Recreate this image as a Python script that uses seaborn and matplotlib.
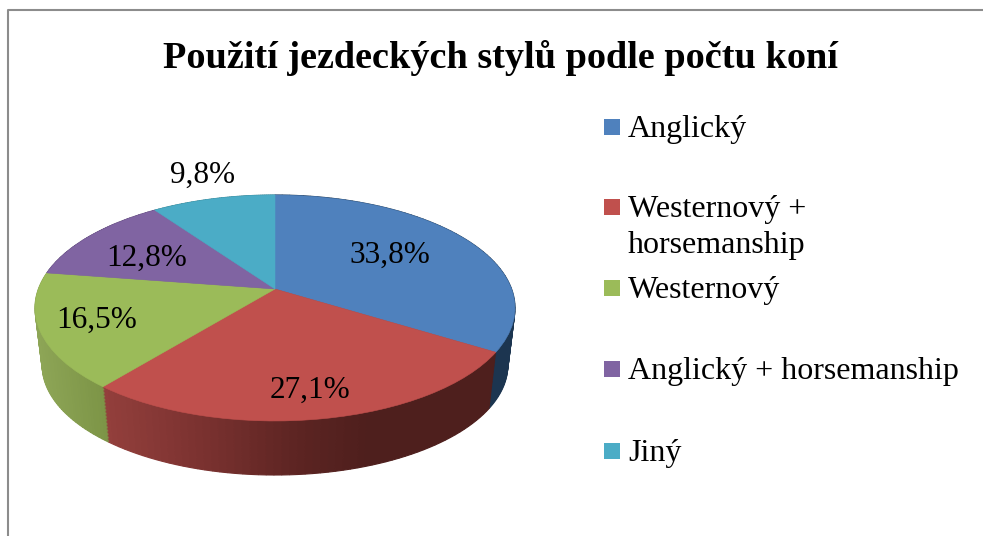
import numpy as np
import matplotlib
matplotlib.use("Agg")
import matplotlib.pyplot as plt
from matplotlib.transforms import Transform, Affine2D
from matplotlib.patches import Rectangle
import seaborn as sns

title = "Použití jezdeckých stylů podle počtu koní"
categories = ["Anglický", "Westernový +\nhorsemanship", "Westernový",
              "Anglický + horsemanship", "Jiný"]
values = [33.8, 27.1, 16.5, 12.8, 9.8]
top_colors = ["#4f81bd", "#c0504d", "#9bbb59", "#8064a2", "#4bacc6"]
# Side-wall shading: screen x -> colour stops for every slice
wall_stops = [
    [(0, "#1c3550"), (983, "#1c3550")],
    [(105, "#933f3c"), (200, "#7b3230"), (300, "#5c2422"), (370, "#4e1f1d"), (983, "#4e1f1d")],
    [(35, "#8ea657"), (105, "#7c9446")],
    [(0, "#5f4a79"), (983, "#5f4a79")],
    [(0, "#38808f"), (983, "#38808f")],
]
label_pos = [(390, 263), (310, 398), (97, 328), (147, 266), (203, 183)]
legend_baselines = [137, 217, 298, 379, 461]

sns.set_theme(style="white")
plt.rcParams["font.family"] = ["Liberation Serif", "DejaVu Serif"]

CX, CY, RX, RY, K = 275.0, 289.0, 236.6, 109.8, 0.168
DEPTH, SHRINK = 58.0, 0.03


class Perspective(Transform):
    input_dims = output_dims = 2
    is_affine = False

    def __init__(self, t=0.0):
        super().__init__()
        self.t = t

    def transform_non_affine(self, xy):
        xy = np.asarray(xy, float)
        w = 1 + K * xy[:, 1]
        s = 1 - SHRINK * self.t
        return np.column_stack((CX + s * RX * xy[:, 0] / w,
                                CY + DEPTH * self.t - s * RY * xy[:, 1] / w))


def hex_rgb(c):
    return np.array(matplotlib.colors.to_rgb(c))


fig = plt.figure(figsize=(9.83, 5.36), dpi=100)
ax = fig.add_axes([0, 0, 1, 1])

# wall: the same pie, repeated downward in thin shaded strips
N = 60
fine_vals, fine_cols = [], []
cum = 0.0
total = sum(values)
for v, stops in zip(values, wall_stops):
    xs = [p[0] for p in stops]
    rgb = np.array([hex_rgb(p[1]) for p in stops])
    for i in range(N):
        a = np.deg2rad(90 - 360 * (cum + v * (i + .5) / N) / total)
        sx = CX + RX * np.cos(a) / (1 + K * np.sin(a))
        fine_cols.append(tuple(np.interp(sx, xs, rgb[:, j]) for j in range(3)))
        fine_vals.append(v / N)
    cum += v

for t in np.linspace(1, 0, 40):
    wedges, _ = ax.pie(fine_vals, colors=fine_cols, startangle=90, counterclock=False,
                       radius=1, wedgeprops=dict(linewidth=0.8))
    tr = Perspective(t) + ax.transData
    for w, c in zip(wedges, fine_cols):
        w.set_edgecolor(c)
        w.set_transform(tr)

# top face
wedges, _ = ax.pie(values, colors=top_colors, startangle=90, counterclock=False,
                   radius=1, wedgeprops=dict(linewidth=0.4))
tr = Perspective(0) + ax.transData
for w, c in zip(wedges, top_colors):
    w.set_edgecolor(c)
    w.set_transform(tr)

ax.set_aspect("auto")
ax.set_xlim(0, 983)
ax.set_ylim(536, 0)
ax.axis("off")

# chart frame
ax.plot([8, 8, 983], [536, 10, 10], color="#8c8c8c", lw=1.5, clip_on=False)

ax.text(500.5, 68, title, ha="center", va="baseline", fontsize=27.5, fontweight="bold", color="black")

for v, (x, y) in zip(values, label_pos):
    ax.text(x, y, f"{v:.1f}%".replace(".", ","), ha="center", va="baseline",
            fontsize=22.5, color="black")

for cat, col, b in zip(categories, top_colors, legend_baselines):
    ax.add_patch(Rectangle((604, b - 18), 16, 16, facecolor=col, edgecolor="none"))
    lines = cat.split("\n")
    for i, line in enumerate(lines):
        ax.text(628, b + 36 * i, line, ha="left", va="baseline", fontsize=23, color="black")

fig.savefig("out.png", dpi=100)
